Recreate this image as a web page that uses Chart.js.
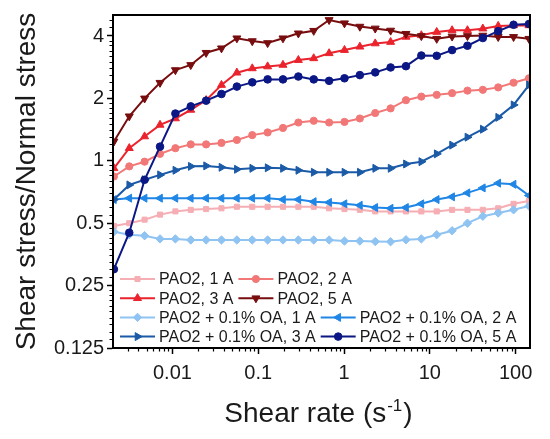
<!DOCTYPE html>
<html>
<head>
<meta charset="utf-8">
<script src="https://cdn.jsdelivr.net/npm/chart.js@4.4.0/dist/chart.umd.min.js"></script>
<style>
  html, body { margin: 0; padding: 0; background: #ffffff; }
</style>
</head>
<body>
<canvas id="chart" width="550" height="439"></canvas>
<script>
// shear rate (s^-1), one value per measured point
const shearRate = [0.00208, 0.00314, 0.00474, 0.00717, 0.01083, 0.01636, 0.0247, 0.0373, 0.0564, 0.0852,
  0.1287, 0.1943, 0.2936, 0.4435, 0.670, 1.012, 1.529, 2.31, 3.49, 5.27,
  7.96, 12.03, 18.17, 27.44, 41.46, 62.62, 94.6, 142.9];

// shear stress / normal stress
const pao2_1A = [0.485, 0.50, 0.52, 0.55, 0.57, 0.58, 0.585, 0.59, 0.60, 0.60, 0.60, 0.60, 0.60, 0.60,
  0.59, 0.585, 0.58, 0.57, 0.57, 0.57, 0.57, 0.57, 0.58, 0.58, 0.58, 0.59, 0.62, 0.64];
const pao2_2A = [0.84, 0.94, 0.99, 1.08, 1.15, 1.20, 1.20, 1.22, 1.26, 1.33, 1.37, 1.44, 1.53, 1.56,
  1.53, 1.54, 1.60, 1.70, 1.79, 1.96, 2.04, 2.08, 2.12, 2.18, 2.20, 2.26, 2.38, 2.50];
const pao2_3A = [0.92, 1.15, 1.31, 1.49, 1.60, 1.76, 1.96, 2.32, 2.66, 2.79, 2.85, 2.90, 3.06, 3.12,
  3.30, 3.42, 3.55, 3.68, 3.74, 3.96, 4.03, 4.18, 4.26, 4.26, 4.34, 4.47, 4.50, 4.50];
const pao2_5A = [1.24, 1.64, 2.00, 2.38, 2.74, 2.90, 3.32, 3.49, 3.90, 3.78, 3.70, 3.90, 4.12, 4.24,
  4.78, 4.61, 4.44, 4.35, 4.25, 4.10, 4.00, 3.88, 3.98, 4.00, 4.02, 3.96, 3.96, 3.88];
const oa_1A = [0.455, 0.44, 0.435, 0.42, 0.42, 0.415, 0.415, 0.415, 0.415, 0.415, 0.415, 0.415, 0.415, 0.415,
  0.415, 0.41, 0.41, 0.408, 0.407, 0.416, 0.42, 0.44, 0.46, 0.50, 0.54, 0.56, 0.58, 0.605];
const oa_2A = [0.65, 0.66, 0.66, 0.66, 0.66, 0.66, 0.66, 0.66, 0.66, 0.66, 0.66, 0.65, 0.65, 0.635,
  0.63, 0.62, 0.61, 0.595, 0.59, 0.595, 0.62, 0.65, 0.67, 0.70, 0.74, 0.78, 0.77, 0.68];
const oa_3A = [0.65, 0.765, 0.81, 0.855, 0.90, 0.94, 0.945, 0.93, 0.91, 0.92, 0.925, 0.92, 0.90, 0.88,
  0.88, 0.88, 0.88, 0.92, 0.92, 0.965, 0.99, 1.08, 1.19, 1.30, 1.42, 1.62, 1.86, 2.32];
const oa_5A = [0.30, 0.45, 0.81, 1.17, 1.69, 1.83, 1.95, 2.10, 2.28, 2.39, 2.47, 2.47, 2.55, 2.47,
  2.43, 2.50, 2.59, 2.67, 2.82, 2.86, 3.22, 3.21, 3.42, 3.59, 3.91, 4.22, 4.53, 4.57];

const seriesLabels = ['PAO2, 1 A', 'PAO2, 2 A', 'PAO2, 3 A', 'PAO2, 5 A',
  'PAO2 + 0.1% OA, 1 A', 'PAO2 + 0.1% OA, 2 A', 'PAO2 + 0.1% OA, 3 A', 'PAO2 + 0.1% OA, 5 A'];
const seriesValues = [pao2_1A, pao2_2A, pao2_3A, pao2_5A, oa_1A, oa_2A, oa_3A, oa_5A];

const xTicks = [0.01, 0.1, 1, 10, 100];
const xTickLabels = ['0.01', '0.1', '1', '10', '100'];
const yTicks = [0.125, 0.25, 0.5, 1, 2, 4];
const yTickLabels = ['0.125', '0.25', '0.5', '1', '2', '4'];

const styles = [
  { color: '#f5aeb3', point: 'rect', rot: 0, r: 3.6 },
  { color: '#f27878', point: 'circle', rot: 0, r: 3.6 },
  { color: '#ea232d', point: 'triangle', rot: 0, r: 4.6 },
  { color: '#780d0f', point: 'triangle', rot: 180, r: 4.6 },
  { color: '#8fc3f2', point: 'rectRot', rot: 0, r: 4.2 },
  { color: '#1f86e6', point: 'triangle', rot: -90, r: 4.6 },
  { color: '#1b5aa6', point: 'triangle', rot: 90, r: 4.6 },
  { color: '#0b1784', point: 'circle', rot: 0, r: 3.8 }
];

const FONT = '"Liberation Sans", Arial, sans-serif';
const TEXT = '#1a1a1a';

const datasets = seriesValues.map((vals, i) => ({
  label: seriesLabels[i],
  data: vals.map((v, k) => ({ x: shearRate[k], y: v })),
  borderColor: styles[i].color,
  backgroundColor: styles[i].color,
  pointBackgroundColor: styles[i].color,
  pointBorderColor: styles[i].color,
  pointStyle: styles[i].point,
  pointRotation: styles[i].rot,
  pointRadius: styles[i].r,
  pointBorderWidth: 1,
  borderWidth: 2,
  tension: 0,
  order: 8 - i
}));

// frame, minor ticks, x title with superscript, legend inside the plot
const decorPlugin = {
  id: 'decor',
  afterDraw(chart) {
    const ctx = chart.ctx;
    const a = chart.chartArea;
    const xs = chart.scales.x, ys = chart.scales.y;
    ctx.save();

    // minor ticks
    ctx.strokeStyle = '#000';
    ctx.lineWidth = 1.2;
    ctx.beginPath();
    yTicks.forEach(b => {
      for (let k = 1; k <= 9; k++) {
        const v = b * (1 + k / 10);
        if (v > ys.max) break;
        const py = Math.round(ys.getPixelForValue(v)) + 0.5;
        ctx.moveTo(a.left - 3.5, py);
        ctx.lineTo(a.left, py);
      }
    });
    [0.001, 0.01, 0.1, 1, 10, 100].forEach(d => {
      for (let m = 2; m <= 9; m++) {
        const v = d * m;
        if (v < xs.min || v > xs.max) continue;
        const px = Math.round(xs.getPixelForValue(v)) + 0.5;
        ctx.moveTo(px, a.bottom);
        ctx.lineTo(px, a.bottom + 3.5);
      }
    });
    ctx.stroke();

    // frame
    ctx.lineWidth = 2;
    ctx.strokeRect(a.left, a.top, a.right - a.left, a.bottom - a.top);

    // x axis title
    ctx.fillStyle = TEXT;
    ctx.textBaseline = 'alphabetic';
    ctx.textAlign = 'left';
    const mainFont = '28px ' + FONT, supFont = '17px ' + FONT;
    ctx.font = mainFont;
    const w1 = ctx.measureText('Shear rate (s').width;
    const w3 = ctx.measureText(')').width;
    ctx.font = supFont;
    const w2 = ctx.measureText('-1').width;
    let tx = (a.left + a.right) / 2 - 4 - (w1 + w2 + w3) / 2;
    const ty = a.bottom + 74;
    ctx.font = mainFont;
    ctx.fillText('Shear rate (s', tx, ty);
    ctx.font = supFont;
    ctx.fillText('-1', tx + w1 + 1, ty - 11);
    ctx.font = mainFont;
    ctx.fillText(')', tx + w1 + w2 + 2, ty);

    // legend
    ctx.font = '16px ' + FONT;
    ctx.textBaseline = 'middle';
    const rows = [[0, 1], [2, 3], [4, 5], [6, 7]];
    rows.forEach((row, r) => {
      let x = a.left + 7;
      const y = a.bottom - 69 + r * 19.2;
      row.forEach(i => {
        const ds = chart.data.datasets[i];
        ctx.strokeStyle = ds.borderColor;
        ctx.fillStyle = ds.borderColor;
        ctx.lineWidth = 2;
        ctx.beginPath();
        ctx.moveTo(x, y);
        ctx.lineTo(x + 35, y);
        ctx.stroke();
        ctx.lineWidth = 1;
        Chart.helpers.drawPoint(ctx, {
          pointStyle: ds.pointStyle, rotation: ds.pointRotation,
          radius: ds.pointRadius, borderWidth: 1
        }, x + 17.5, y);
        ctx.fillStyle = TEXT;
        ctx.fillText(ds.label, x + 39, y + 1);
        x += 39 + ctx.measureText(ds.label).width + 5;
      });
    });
    ctx.restore();
  }
};

new Chart(document.getElementById('chart'), {
  type: 'line',
  data: { datasets },
  options: {
    responsive: false,
    animation: false,
    devicePixelRatio: 1,
    layout: { padding: { top: 15, right: 20, left: 0, bottom: 0 } },
    plugins: {
      legend: { display: false },
      tooltip: { enabled: false }
    },
    scales: {
      x: {
        type: 'logarithmic',
        min: 0.00203,
        max: 147,
        afterBuildTicks: s => { s.ticks = xTicks.map(v => ({ value: v })); },
        afterFit: s => { s.height = 91; },
        ticks: {
          autoSkip: false,
          maxRotation: 0,
          padding: 7,
          color: TEXT,
          font: { family: FONT, size: 20 },
          callback: (v, i) => xTickLabels[i]
        },
        grid: { drawOnChartArea: false, drawTicks: true, tickLength: 6, tickWidth: 1.5, tickColor: '#000' },
        border: { display: true, color: '#000', width: 2 }
      },
      y: {
        type: 'logarithmic',
        min: 0.125,
        max: 5.05,
        afterBuildTicks: s => { s.ticks = yTicks.map(v => ({ value: v })); },
        afterFit: s => { s.width = 113; },
        ticks: {
          autoSkip: false,
          padding: 3,
          color: TEXT,
          font: { family: FONT, size: 20 },
          callback: (v, i) => yTickLabels[i]
        },
        grid: { drawOnChartArea: false, drawTicks: true, tickLength: 6, tickWidth: 1.5, tickColor: '#000' },
        border: { display: true, color: '#000', width: 2 },
        title: {
          display: true,
          text: 'Shear stress/Normal stress',
          color: TEXT,
          font: { family: FONT, size: 28 },
          padding: { top: 10, bottom: 0 }
        }
      }
    }
  },
  plugins: [decorPlugin]
});
</script>
</body>
</html>
